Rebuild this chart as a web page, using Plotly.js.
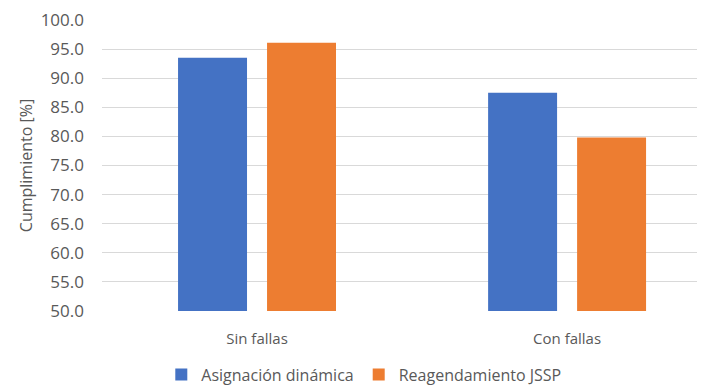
<!DOCTYPE html>
<html>
<head>
<meta charset="utf-8">
<script src="https://cdn.plot.ly/plotly-3.0.1.min.js"></script>
<style>
  html, body { margin: 0; padding: 0; background: #ffffff; }
  #chart { width: 707px; height: 387px; }
</style>
</head>
<body>
<div id="chart"></div>
<script>
// Escenarios evaluados
const categories = ['Sin fallas', 'Con fallas'];
// Cumplimiento [%] por estrategia
const asignacionDinamica = [93.5, 87.5];
const reagendamientoJSSP = [96.1, 79.8];
const seriesNames = ['Asignación dinámica', 'Reagendamiento JSSP'];
const yTicks = [50, 55, 60, 65, 70, 75, 80, 85, 90, 95, 100];

const textColor = '#595959';
const fontFamily = '"Open Sans", "Noto Sans", sans-serif';

const traces = [
  {
    type: 'bar',
    name: seriesNames[0],
    x: categories,
    y: asignacionDinamica,
    marker: { color: '#4472C4' },
    hoverinfo: 'x+y+name'
  },
  {
    type: 'bar',
    name: seriesNames[1],
    x: categories,
    y: reagendamientoJSSP,
    marker: { color: '#ED7D31' },
    hoverinfo: 'x+y+name'
  }
];

const layout = {
  width: 707,
  height: 387,
  margin: { l: 102, r: 10, t: 20, b: 76 },
  paper_bgcolor: '#ffffff',
  plot_bgcolor: '#ffffff',
  font: { family: fontFamily, color: textColor, size: 15 },
  barmode: 'group',
  bargap: 0.426,
  bargroupgap: 0.225,
  xaxis: {
    range: [-0.5, 1.419],
    showgrid: false,
    showline: false,
    zeroline: false,
    ticks: '',
    automargin: false,
    tickfont: { size: 15, color: textColor },
    ticklabelstandoff: 17
  },
  yaxis: {
    range: [50, 100],
    tickvals: yTicks,
    ticktext: yTicks.map(v => v.toFixed(1)),
    showgrid: true,
    gridcolor: '#d9d9d9',
    gridwidth: 1,
    zeroline: false,
    showline: false,
    ticks: '',
    automargin: false,
    tickfont: { size: 17, color: textColor },
    ticklabelstandoff: 17,
    title: {
      text: 'Cumplimiento [%]',
      font: { size: 16, color: textColor },
      standoff: 4
    }
  },
  showlegend: true,
  legend: {
    orientation: 'h',
    xref: 'paper',
    x: 0.44,
    xanchor: 'center',
    yref: 'container',
    y: 0.032,
    yanchor: 'middle',
    font: { size: 16, color: textColor },
    itemwidth: 30,
    traceorder: 'normal'
  }
};

Plotly.newPlot('chart', traces, layout, { displayModeBar: false, staticPlot: true });
</script>
</body>
</html>
